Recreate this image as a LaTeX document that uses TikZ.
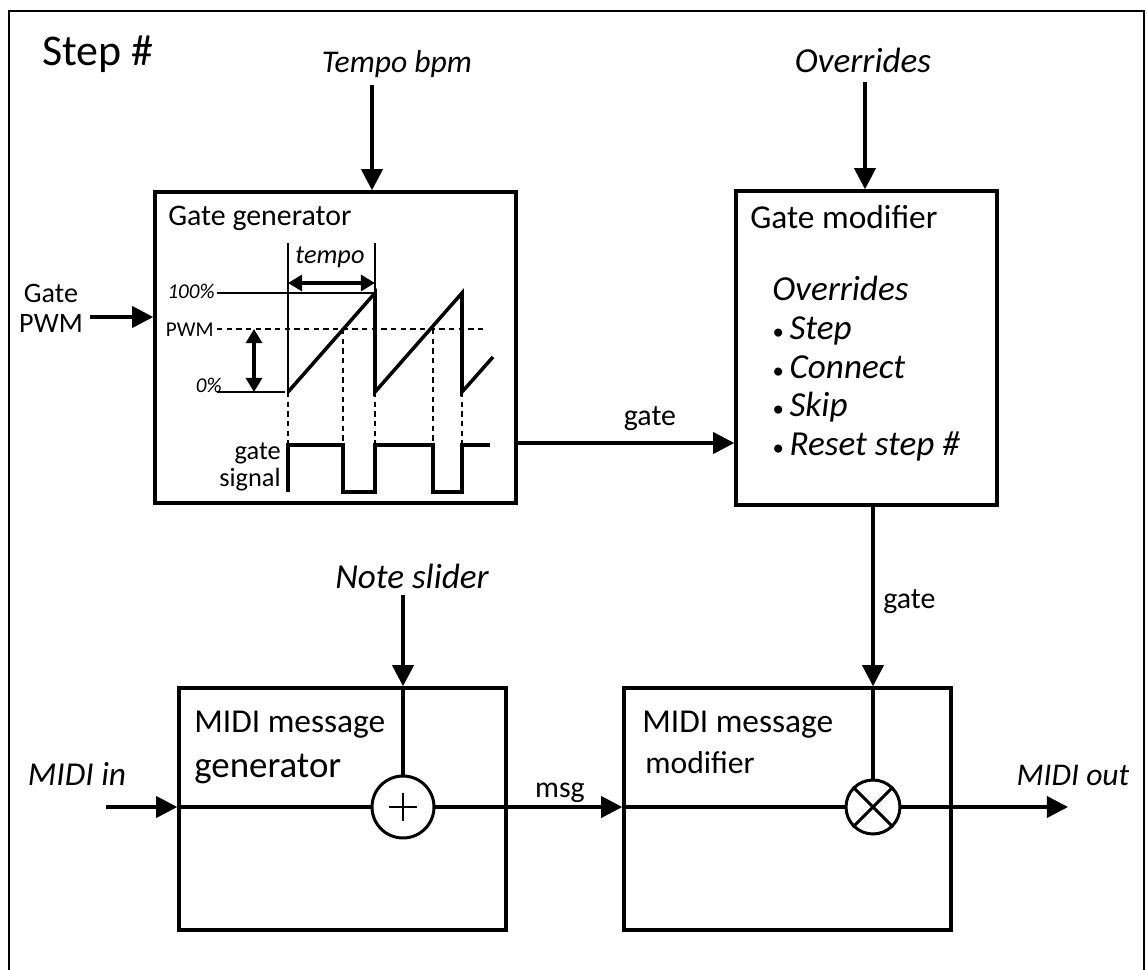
\documentclass[tikz,border=0pt]{standalone}
\usepackage{fontspec}
\setmainfont{Carlito}
\usetikzlibrary{arrows.meta,calc}
\newcommand{\fsz}[2]{\fontsize{#1}{#2}\selectfont}
\tikzset{sig/.style={line width=2pt,-{Triangle[length=12pt,width=12pt]}}}
\tikzset{wire/.style={line width=2pt}}
\tikzset{blk/.style={draw,line width=2pt,inner sep=0pt}}
\tikzset{hair/.style={line width=0.6pt}}
\tikzset{guide/.style={line width=0.6pt,dash pattern=on 3pt off 2.5pt}}
\tikzset{span/.style={line width=2pt,{Triangle[length=8pt,width=9pt]}-{Triangle[length=8pt,width=9pt]}}}

\begin{document}
\begin{tikzpicture}[x=0.02cm,y=-0.02cm,inner sep=0pt]
  \useasboundingbox (0,0) rectangle (1147,970);
  % frame
  \draw[line width=1.1pt] (9,985) -- (9,11) -- (1144,11) -- (1144,985);
  \node[anchor=base west,font=\fsz{25}{30}] (steplbl) at (42,65) {Step \#};
  % blocks
  \node[blk,minimum width=7.22cm,minimum height=6.22cm] (gategen) at (335.5,347.5) {};
  \node[blk,minimum width=5.22cm,minimum height=6.28cm] (gatemod) at (866.5,348) {};
  \node[blk,minimum width=6.54cm,minimum height=4.84cm] (midigen) at (342.5,809) {};
  \node[blk,minimum width=6.54cm,minimum height=4.84cm] (midimod) at (787.5,809) {};
  \node[circle,draw,line width=1.7pt,minimum size=1.24cm] (adder) at (403,807) {};
  \node[circle,draw,line width=1.7pt,minimum size=1.08cm] (mixer) at (873,807) {};
  \draw[line width=1.7pt] ($(adder)+(-14,0)$) -- ($(adder)+(14,0)$)
    ($(adder)+(0,-14)$) -- ($(adder)+(0,14)$);
  \draw[line width=1.7pt] (mixer.north east) -- (mixer.south west)
    (mixer.north west) -- (mixer.south east);
  % block titles
  \node[anchor=base west,font=\fsz{17}{20}] (gentitle) at (168,225) {Gate generator};
  \node[anchor=base west,font=\fsz{19}{22}] (modtitle) at (750,228) {Gate modifier};
  \node[anchor=north west,align=left,font=\fsz{20}{22}\itshape] (ovrlist) at (772,276)
    {Overrides\\{\fsz{13}{13}\textbullet}\,Step\\{\fsz{13}{13}\textbullet}\,Connect\\{\fsz{13}{13}\textbullet}\,Skip\\{\fsz{13}{13}\textbullet}\,Reset step \#};
  \node[anchor=base west,font=\fsz{19}{22}] (msggen1) at (194,732) {MIDI message};
  \node[anchor=base west,font=\fsz{21}{24}] (msggen2) at (194,777) {generator};
  \node[anchor=base west,font=\fsz{19}{22}] (msgmod1) at (642,732) {MIDI message};
  \node[anchor=base west,font=\fsz{18}{22}] (msgmod2) at (645,773) {modifier};
  % gate generator plot
  \draw[hair] (288,243) -- (288,392) (375,243) -- (375,293)
    (217,293) -- (375,293) (217,392) -- (285,392);
  \draw[guide] (217,329) -- (485,329);
  \draw[guide] (288,392) -- (288,443) (343,329) -- (343,443) (375,392) -- (375,443)
    (433,329) -- (433,443) (462,392) -- (462,443);
  \draw[wire] (288,392) -- (375,293) -- (375,392) -- (462,293) -- (462,392) -- (493,357);
  \draw[wire] (288,492) -- (288,445) -- (343,445) -- (343,492) -- (375,492) -- (375,445)
    -- (433,445) -- (433,492) -- (462,492) -- (462,445) -- (490,445);
  \draw[span] (288,283) -- (375,283);
  \draw[span] (254,329) -- (254,392);
  \node[anchor=base,font=\fsz{15}{17}\itshape] (tempolbl) at (330,263) {tempo};
  \node[anchor=base east,font=\fsz{12}{14}\itshape] (fulllbl) at (215,298) {100\%};
  \node[anchor=base east,font=\fsz{12}{14}] (pwmlbl) at (214,336) {PWM};
  \node[anchor=base east,font=\fsz{12}{14}\itshape] (zerolbl) at (222,392) {0\%};
  \node[anchor=east,align=right,font=\fsz{15}{15}] (siglbl) at (281,467) {gate\\signal};
  % inputs
  \coordinate (tempoin) at (372,85);
  \node[anchor=base,font=\fsz{18}{21}\itshape] (tempotxt) at (397,72) {Tempo bpm};
  \draw[sig] (tempoin) -- (tempoin |- gategen.north);
  \coordinate (ovrin) at (865,82);
  \node[anchor=base,font=\fsz{20}{23}\itshape] (ovrtxt) at (863,72) {Overrides};
  \draw[sig] (ovrin) -- (ovrin |- gatemod.north);
  \coordinate (pwmin) at (90,317);
  \node[align=center,font=\fsz{16}{17}] (pwmtxt) at (51,308) {Gate\\PWM};
  \draw[sig] (pwmin) -- (pwmin -| gategen.west);
  \coordinate (notein) at (403,595);
  \node[anchor=base,font=\fsz{20}{23}\itshape] (notetxt) at (412,588) {Note slider};
  \draw[sig] (notein) -- (notein |- midigen.north);
  \draw[wire] (notein |- midigen.north) -- (adder.north);
  \coordinate (midiin) at (106,807);
  \node[anchor=base,font=\fsz{19}{22}\itshape] (midiintxt) at (77,785) {MIDI in};
  \draw[sig] (midiin) -- (midiin -| midigen.west);
  \draw[wire] (midiin -| midigen.west) -- (adder.west);
  % gate path
  \coordinate (gateout) at (gategen.east |- 0,443);
  \draw[sig] (gateout) -- (gateout -| gatemod.west);
  \node[anchor=base,font=\fsz{17}{20}] (gatetxt) at (650,425) {gate};
  \coordinate (gatedn) at (gatemod.south -| mixer);
  \draw[sig] (gatedn) -- (gatedn |- midimod.north);
  \draw[wire] (gatedn |- midimod.north) -- (mixer.north);
  \node[anchor=base west,font=\fsz{17}{20}] (gatedntxt) at (883,608) {gate};
  % message path
  \draw[sig] (adder.east) -- (adder -| midimod.west);
  \node[anchor=base,font=\fsz{17}{20}] (msgtxt) at (560,797) {msg};
  \draw[wire] (adder -| midimod.west) -- (mixer.west);
  \coordinate (midiout) at (1068,807);
  \draw[sig] (mixer.east) -- (midiout);
  \node[anchor=base,font=\fsz{18}{21}\itshape] (midiouttxt) at (1073,785) {MIDI out};
\end{tikzpicture}
\end{document}
